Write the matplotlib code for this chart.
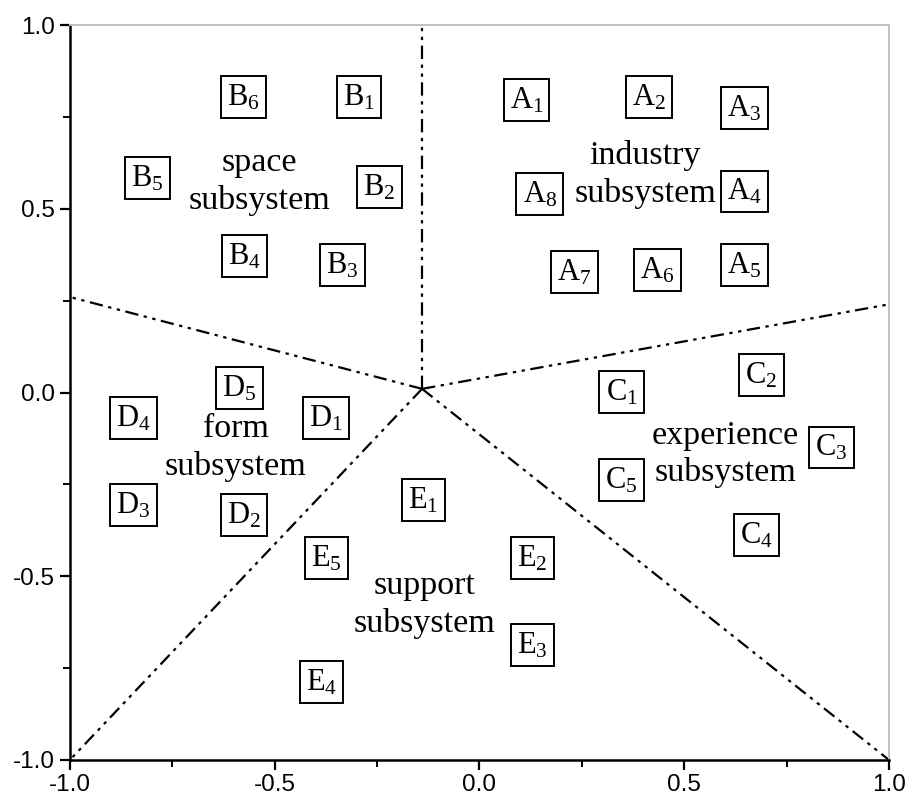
import numpy as np
import matplotlib
matplotlib.use("Agg")
import matplotlib.pyplot as plt
from matplotlib.ticker import MultipleLocator

plt.rcParams['mathtext.fontset'] = 'custom'
plt.rcParams['mathtext.rm'] = 'Liberation Serif'
plt.rcParams['mathtext.it'] = 'Liberation Serif:italic'

# element boxes: name, index, x, y
box_names = ['A', 'A', 'A', 'A', 'A', 'A', 'A', 'A',
             'B', 'B', 'B', 'B', 'B', 'B',
             'C', 'C', 'C', 'C', 'C',
             'D', 'D', 'D', 'D', 'D',
             'E', 'E', 'E', 'E', 'E']
box_idx = [1, 2, 3, 4, 5, 6, 7, 8,
           1, 2, 3, 4, 5, 6,
           1, 2, 3, 4, 5,
           1, 2, 3, 4, 5,
           1, 2, 3, 4, 5]
box_x = [0.115, 0.415, 0.647, 0.647, 0.647, 0.435, 0.232, 0.147,
         -0.295, -0.244, -0.335, -0.574, -0.811, -0.576,
         0.347, 0.689, 0.86, 0.676, 0.347,
         -0.374, -0.574, -0.845, -0.845, -0.586,
         -0.137, 0.129, 0.129, -0.386, -0.374]
box_y = [0.796, 0.804, 0.774, 0.547, 0.347, 0.333, 0.328, 0.540,
         0.804, 0.559, 0.347, 0.371, 0.584, 0.804,
         0.001, 0.048, -0.15, -0.388, -0.238,
         -0.069, -0.333, -0.306, -0.069, 0.012,
         -0.293, -0.451, -0.687, -0.788, -0.451]

# subsystem labels
group_labels = ['industry\nsubsystem', 'space\nsubsystem', 'experience\nsubsystem',
                'form\nsubsystem', 'support\nsubsystem']
group_x = [0.405, -0.537, 0.60, -0.595, -0.134]
group_y = [0.594, 0.573, -0.168, -0.151, -0.578]

# dividing lines from the centre
center = (-0.14, 0.01)
ends_x = [-0.14, -1.0, 1.0, -1.0, 1.0]
ends_y = [1.0, 0.26, 0.24, -1.0, -1.0]

fig = plt.figure(figsize=(9.08, 8.11), dpi=100)
ax = fig.add_axes([0.077, 0.063, 0.902, 0.906])

for ex, ey in zip(ends_x, ends_y):
    ax.plot([center[0], ex], [center[1], ey], color='black', lw=1.6,
            linestyle=(0, (6, 2.5, 1.5, 2.5, 1.5, 2.5)))

for n, i, x, y in zip(box_names, box_idx, box_x, box_y):
    ax.text(x, y, r'$\mathrm{%s}_{\mathrm{%d}}$' % (n, i), fontsize=22,
            ha='center', va='center',
            bbox=dict(boxstyle='square,pad=0.2', fc='white', ec='black', lw=1.4))

for t, x, y in zip(group_labels, group_x, group_y):
    ax.text(x, y, t, fontsize=24.5, family='Liberation Serif', ha='center',
            va='center', linespacing=1.28)

ax.set_xlim(-1, 1)
ax.set_ylim(-1, 1)
ax.xaxis.set_major_locator(MultipleLocator(0.5))
ax.yaxis.set_major_locator(MultipleLocator(0.5))
ax.xaxis.set_minor_locator(MultipleLocator(0.25))
ax.yaxis.set_minor_locator(MultipleLocator(0.25))
ax.xaxis.set_major_formatter(matplotlib.ticker.FormatStrFormatter('%.1f'))
ax.yaxis.set_major_formatter(matplotlib.ticker.FormatStrFormatter('%.1f'))
ax.tick_params(which='major', direction='out', length=7, width=1.6,
               labelsize=17.5, top=False, right=False)
ax.tick_params(which='minor', direction='out', length=5, width=1.4,
               top=False, right=False)
for lab in ax.get_xticklabels() + ax.get_yticklabels():
    lab.set_family('Liberation Sans')
for s in ['left', 'bottom']:
    ax.spines[s].set_linewidth(1.8)
for s in ['top', 'right']:
    ax.spines[s].set_color('#c0c0c0')
    ax.spines[s].set_linewidth(1.4)

fig.savefig('out.png', dpi=100)
